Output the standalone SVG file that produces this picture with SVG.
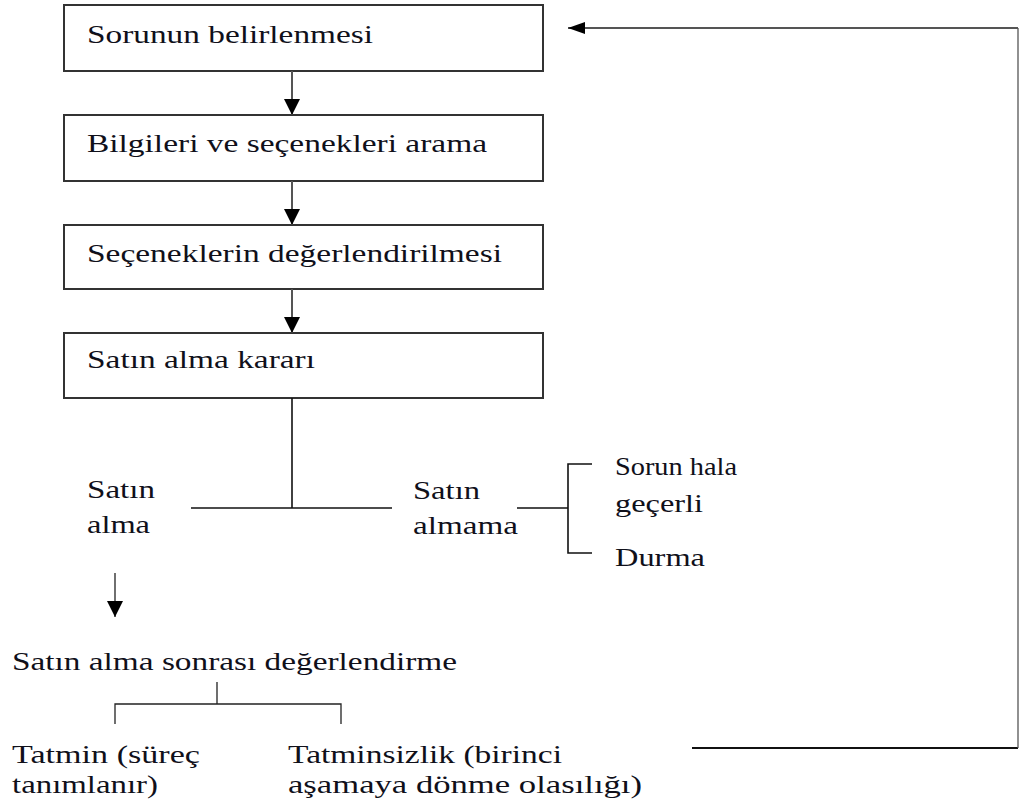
<svg xmlns="http://www.w3.org/2000/svg" width="1019" height="805" viewBox="0 0 1019 805">
<style>
.bg{fill:#ffffff}
.box{fill:#ffffff;stroke:#333333;stroke-width:2}
.t{font-family:"Liberation Serif","Times New Roman",serif;font-size:26px;fill:#10101a}
.gl{stroke:#555555;stroke-width:2;fill:none}
.bl{stroke:#111111;stroke-width:1.6;fill:none}
.thin{stroke:#222222;stroke-width:1.3;fill:none}
</style>
<defs>
<marker id="ah" viewBox="0 0 16 16" refX="16" refY="8" markerWidth="16" markerHeight="16" markerUnits="userSpaceOnUse" orient="auto">
<path d="M0,0 L16,8 L0,16 z" fill="#000"/>
</marker>
<marker id="ahl" viewBox="0 0 17 12" refX="17" refY="6" markerWidth="17" markerHeight="12" markerUnits="userSpaceOnUse" orient="auto">
<path d="M0,0 L17,6 L0,12 z" fill="#000"/>
</marker>
</defs>
<rect class="bg" x="0" y="0" width="1019" height="805"/>
<g id="n1"><rect class="box" x="64" y="5" width="479" height="66"/><text class="t" x="87" y="43" textLength="286" lengthAdjust="spacingAndGlyphs">Sorunun belirlenmesi</text></g>
<g id="n2"><rect class="box" x="64" y="115" width="479" height="66"/><text class="t" x="87" y="152" textLength="400" lengthAdjust="spacingAndGlyphs">Bilgileri ve seçenekleri arama</text></g>
<g id="n3"><rect class="box" x="64" y="225" width="479" height="64"/><text class="t" x="87" y="262" textLength="415" lengthAdjust="spacingAndGlyphs">Seçeneklerin değerlendirilmesi</text></g>
<g id="n4"><rect class="box" x="64" y="333" width="479" height="65"/><text class="t" x="87" y="368" textLength="228" lengthAdjust="spacingAndGlyphs">Satın alma kararı</text></g>
<g id="n5"><text class="t" x="87" y="498" textLength="68" lengthAdjust="spacingAndGlyphs">Satın</text><text class="t" x="87" y="533" textLength="63" lengthAdjust="spacingAndGlyphs">alma</text></g>
<g id="n6"><text class="t" x="413" y="499" textLength="67" lengthAdjust="spacingAndGlyphs">Satın</text><text class="t" x="413" y="534" textLength="105" lengthAdjust="spacingAndGlyphs">almama</text></g>
<g id="n7"><text class="t" x="615" y="475" textLength="122" lengthAdjust="spacingAndGlyphs">Sorun hala</text><text class="t" x="615" y="512" textLength="88" lengthAdjust="spacingAndGlyphs">geçerli</text></g>
<g id="n8"><text class="t" x="615" y="566" textLength="90" lengthAdjust="spacingAndGlyphs">Durma</text></g>
<g id="n9"><text class="t" x="12" y="670" textLength="445" lengthAdjust="spacingAndGlyphs">Satın alma sonrası değerlendirme</text></g>
<g id="n10"><text class="t" x="12" y="763" textLength="188" lengthAdjust="spacingAndGlyphs">Tatmin (süreç</text><text class="t" x="12" y="793" textLength="146" lengthAdjust="spacingAndGlyphs">tanımlanır)</text></g>
<g id="n11"><text class="t" x="288" y="763" textLength="274" lengthAdjust="spacingAndGlyphs">Tatminsizlik (birinci</text><text class="t" x="288" y="793" textLength="354" lengthAdjust="spacingAndGlyphs">aşamaya dönme olasılığı)</text></g>
<g id="connectors">
<line class="gl" x1="292" y1="71" x2="292" y2="115" marker-end="url(#ah)"/>
<line class="gl" x1="292" y1="181" x2="292" y2="225" marker-end="url(#ah)"/>
<line class="gl" x1="292" y1="289" x2="292" y2="333" marker-end="url(#ah)"/>
<line class="bl" x1="292" y1="398" x2="292" y2="508"/>
<line class="bl" x1="191" y1="508" x2="392" y2="508"/>
<path class="bl" d="M517,508 H568 M592,464 H568 V553 H592"/>
<line class="thin" x1="115" y1="573" x2="115" y2="617" marker-end="url(#ah)"/>
<path class="thin" d="M217,682 V704 M115,724 V704 H341 V724"/>
<line class="bl" x1="692" y1="748" x2="1018" y2="748" style="stroke-width:2"/>
<line class="thin" x1="1018" y1="748" x2="1018" y2="28" style="stroke:#555"/>
<line class="gl" x1="1018" y1="28" x2="568" y2="28" marker-end="url(#ahl)"/>
</g>
</svg>
